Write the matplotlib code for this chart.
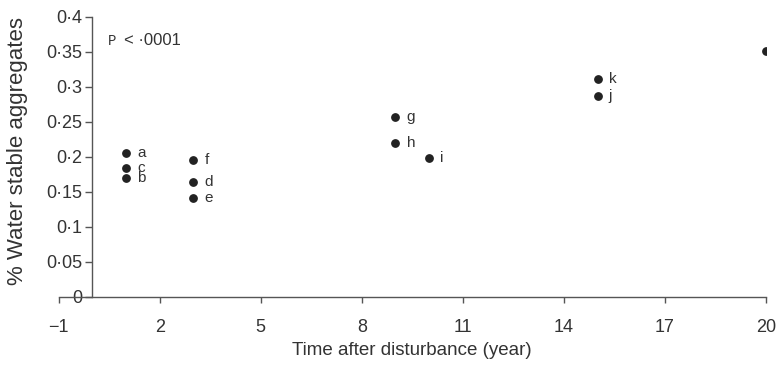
import matplotlib
matplotlib.use("Agg")
import matplotlib.pyplot as plt
from matplotlib.ticker import FuncFormatter, FixedLocator

# Data
labels = ["a", "c", "b", "f", "d", "e", "g", "h", "i", "k", "j", "l"]
years = [1, 1, 1, 3, 3, 3, 9, 9, 10, 15, 15, 20]
wsa = [0.205, 0.184, 0.170, 0.195, 0.164, 0.141, 0.257, 0.220, 0.198, 0.311, 0.287, 0.351]
x_ticks = [-1, 2, 5, 8, 11, 14, 17, 20]
y_ticks = [0, 0.05, 0.1, 0.15, 0.2, 0.25, 0.3, 0.35, 0.4]

txt = "#333333"
plt.rcParams['font.family'] = ['Liberation Sans', 'DejaVu Sans']

fig = plt.figure(figsize=(7.76, 3.70), dpi=100)
ax = fig.add_axes([0.0756, 0.198, 0.987 - 0.0756, 0.955 - 0.198])

ax.scatter(years, wsa, s=28, color="#222222", zorder=3)
for lab, xv, yv in zip(labels, years, wsa):
    ax.annotate(lab, (xv, yv), xytext=(8, 0), textcoords="offset points",
                va="center", ha="left", fontsize=11, color=txt,
                annotation_clip=False)

ax.set_xlim(-1, 20)
ax.set_ylim(0, 0.4)
ax.spines['top'].set_visible(False)
ax.spines['right'].set_visible(False)
ax.spines['left'].set_position(('data', 0))
for s in ('left', 'bottom'):
    ax.spines[s].set_color("#555555")
    ax.spines[s].set_linewidth(1.0)

ax.xaxis.set_major_locator(FixedLocator(x_ticks))
ax.yaxis.set_major_locator(FixedLocator(y_ticks))
ax.xaxis.set_major_formatter(FuncFormatter(lambda v, p: f"{int(v)}".replace('-', '\u2212')))
ax.yaxis.set_major_formatter(FuncFormatter(lambda v, p: f"{v:g}".replace('.', '\u00b7')))
ax.tick_params(axis='x', direction='out', length=4, width=1, color="#555555",
               labelsize=13, labelcolor=txt, pad=12)
ax.tick_params(axis='y', direction='out', length=5, width=1, color="#555555",
               labelsize=13, labelcolor=txt, pad=2)

ax.set_xlabel("Time after disturbance (year)", fontsize=13.5, color=txt, labelpad=4)
ax.set_ylabel("% Water stable aggregates", fontsize=16, color=txt)
ax.yaxis.set_label_coords(-0.043, 0.52)

ax.text(0.45, 0.365, "P", fontsize=10, color=txt, family=['Liberation Mono', 'DejaVu Sans Mono'],
        va="center", ha="left")
ax.text(0.95, 0.366, "< \u00b70001", fontsize=12, color=txt, va="center", ha="left")

fig.savefig("out.png", dpi=100)
